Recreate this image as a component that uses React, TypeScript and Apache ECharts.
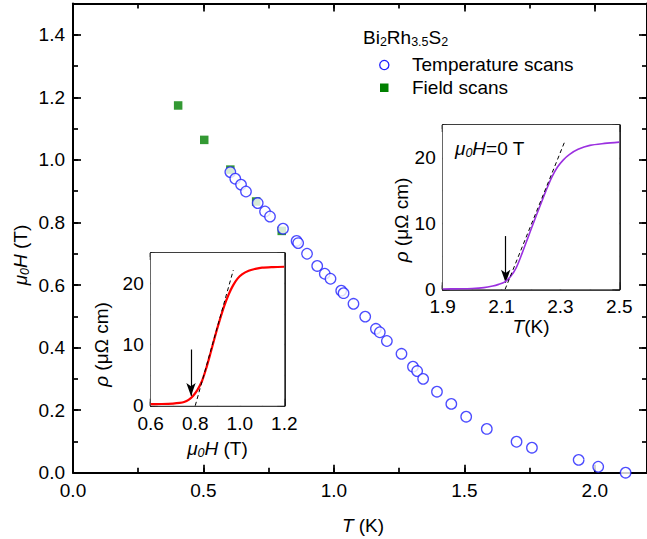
import React, { useEffect, useRef } from "react";
import * as echarts from "echarts";

// ---------------- data ----------------
// Main panel: upper critical field vs temperature
const tempScanT = [0.603, 0.622, 0.644, 0.663, 0.708, 0.736, 0.755, 0.805, 0.857, 0.863, 0.897, 0.936, 0.965, 0.987, 1.028, 1.037, 1.075, 1.12, 1.161, 1.176, 1.203, 1.259, 1.303, 1.319, 1.342, 1.395, 1.45, 1.507, 1.586, 1.7, 1.759, 1.938, 2.013, 2.118];
const tempScanH = [0.961, 0.94, 0.921, 0.899, 0.862, 0.835, 0.819, 0.78, 0.741, 0.734, 0.7, 0.661, 0.636, 0.62, 0.582, 0.574, 0.54, 0.499, 0.46, 0.449, 0.421, 0.38, 0.339, 0.325, 0.3, 0.259, 0.22, 0.179, 0.14, 0.099, 0.08, 0.041, 0.019, 0.0];
const fieldScanT = [0.403, 0.503, 0.603, 0.702, 0.8];
const fieldScanH = [1.174, 1.064, 0.969, 0.867, 0.773];

// Inset 1: rho vs mu0H (field scan)
const inset1H = [0.6, 0.65, 0.7, 0.73, 0.75, 0.77, 0.79, 0.81, 0.83, 0.85, 0.87, 0.89, 0.91, 0.93, 0.95, 0.97, 0.99, 1.01, 1.04, 1.07, 1.1, 1.15, 1.2];
const inset1Rho = [0.25, 0.28, 0.35, 0.45, 0.6, 0.95, 1.6, 2.6, 4.0, 6.2, 8.8, 11.5, 14.0, 16.3, 18.2, 19.7, 20.8, 21.5, 22.1, 22.4, 22.6, 22.7, 22.75];
const inset1DashH = [0.8, 0.971];
const inset1DashRho = [0, 22.2];
const inset1ArrowH = 0.781;
const inset1ArrowRho = [9.2, 1.6];

// Inset 2: rho vs T (mu0H = 0 T)
const inset2T = [1.9, 1.95, 2.0, 2.04, 2.07, 2.09, 2.11, 2.13, 2.15, 2.17, 2.19, 2.21, 2.23, 2.25, 2.27, 2.29, 2.31, 2.33, 2.36, 2.4, 2.45, 2.5];
const inset2Rho = [0.05, 0.07, 0.12, 0.25, 0.5, 0.75, 1.1, 1.9, 3.3, 5.5, 7.9, 10.3, 12.6, 14.9, 17.0, 18.6, 19.7, 20.5, 21.3, 21.9, 22.2, 22.4];
const inset2DashT = [2.112, 2.313];
const inset2DashRho = [0, 22.3];
const inset2ArrowT = 2.114;
const inset2ArrowRho = [8.1, 1.0];

// Axis ranges / tick steps
const mainX = { min: 0, max: 2.2, major: 0.5, minor: 0.25 };
const mainY = { min: 0, max: 1.5, major: 0.2, minor: 0.1 };
const in1X = { min: 0.6, max: 1.2, major: 0.2, minor: 0.1 };
const in1Y = { min: 0, max: 25, major: 10, minor: 5 };
const in2X = { min: 1.9, max: 2.5, major: 0.2, minor: 0.1 };
const in2Y = { min: 0, max: 25, major: 10, minor: 5 };

// ---------------- styling ----------------
const FONT = '"Liberation Sans", Arial, Helvetica, sans-serif';
const FS = 19;
const BLUE = "#1f1fff";
const GREEN = "#008000";
const RED = "#ff0000";
const PURPLE = "#9b30e0";

type AxOpts = {
  lw: number;
  majorLen: number;
  minorLen: number;
  labels?: boolean;
  fmt?: (v: number) => string;
  margin?: number;
  showMax?: boolean;
};

function addAxes(list: any[], gridIndex: number, position: string, r: any, o: AxOpts): number {
  const idx = list.length;
  list.push({
    type: "value",
    gridIndex,
    position,
    min: r.min,
    max: r.max,
    interval: r.major,
    axisLine: { show: true, onZero: false, lineStyle: { color: "#000", width: o.lw } },
    axisTick: { show: true, inside: true, length: o.majorLen, lineStyle: { color: "#000", width: o.lw * 0.85 } },
    minorTick: { show: false },
    splitLine: { show: false },
    axisLabel: o.labels
      ? {
          show: true,
          margin: o.margin ?? 8,
          color: "#000",
          fontSize: FS,
          fontFamily: FONT,
          formatter: o.fmt,
          showMaxLabel: !!o.showMax,
          showMinLabel: true,
        }
      : { show: false },
  });
  list.push({
    type: "value",
    gridIndex,
    position,
    min: r.min,
    max: r.max,
    interval: r.minor,
    axisLine: { show: false, onZero: false },
    axisTick: { show: true, inside: true, length: o.minorLen, lineStyle: { color: "#000", width: o.lw * 0.85 } },
    minorTick: { show: false },
    splitLine: { show: false },
    axisLabel: { show: false },
  });
  return idx;
}

const rich = {
  i: { fontStyle: "italic", fontSize: FS, fontFamily: FONT, lineHeight: 23 },
  isub: { fontStyle: "italic", fontSize: 12.5, fontFamily: FONT, lineHeight: 13, verticalAlign: "bottom" },
  sub: { fontSize: 12.5, fontFamily: FONT, lineHeight: 13, verticalAlign: "bottom" },
};

function txt(x: number, y: number, text: string, opts: any = {}) {
  return {
    type: "text",
    x,
    y,
    rotation: opts.rotation ?? 0,
    z: 100,
    style: {
      text,
      rich,
      fill: "#000",
      font: `${FS}px ${FONT}`,
      fontSize: FS,
      fontFamily: FONT,
      lineHeight: 23,
      align: opts.align ?? "center",
      verticalAlign: "middle",
    },
  };
}

export default function App() {
  const ref = useRef<HTMLDivElement>(null);

  useEffect(() => {
    if (!ref.current) return;
    const chart = echarts.init(ref.current, undefined, { renderer: "svg" });

    const xAxes: any[] = [];
    const yAxes: any[] = [];
    const f1 = (v: number) => v.toFixed(1);
    const f0 = (v: number) => String(Math.round(v));

    // main grid (0)
    const mx = addAxes(xAxes, 0, "bottom", mainX, { lw: 2, majorLen: 8, minorLen: 5, labels: true, fmt: f1, margin: 8 });
    addAxes(xAxes, 0, "top", mainX, { lw: 2, majorLen: 8, minorLen: 5 });
    const my = addAxes(yAxes, 0, "left", mainY, { lw: 2, majorLen: 8, minorLen: 5, labels: true, fmt: f1, margin: 8 });
    addAxes(yAxes, 0, "right", mainY, { lw: 2, majorLen: 8, minorLen: 5 });

    // inset 1 (grid 1)
    const i1x = addAxes(xAxes, 1, "bottom", in1X, { lw: 1.7, majorLen: 7, minorLen: 4, labels: true, fmt: f1, margin: 8, showMax: true });
    addAxes(xAxes, 1, "top", in1X, { lw: 1.7, majorLen: 7, minorLen: 4 });
    const i1y = addAxes(yAxes, 1, "left", in1Y, { lw: 1.7, majorLen: 7, minorLen: 4, labels: true, fmt: f0, margin: 7 });
    addAxes(yAxes, 1, "right", in1Y, { lw: 1.7, majorLen: 7, minorLen: 4 });

    // inset 2 (grid 2)
    const i2x = addAxes(xAxes, 2, "bottom", in2X, { lw: 1.7, majorLen: 7, minorLen: 4, labels: true, fmt: f1, margin: 8, showMax: true });
    addAxes(xAxes, 2, "top", in2X, { lw: 1.7, majorLen: 7, minorLen: 4 });
    const i2y = addAxes(yAxes, 2, "left", in2Y, { lw: 1.7, majorLen: 7, minorLen: 4, labels: true, fmt: f0, margin: 7 });
    addAxes(yAxes, 2, "right", in2Y, { lw: 1.7, majorLen: 7, minorLen: 4 });

    const arrowLine = (x: number, ys: number[]) => ({
      silent: true,
      animation: false,
      symbol: ["none", "arrow"],
      lineStyle: { color: "#000", width: 1.2, type: "solid" },
      label: { show: false },
      emphasis: { disabled: true },
      data: [[{ coord: [x, ys[0]], symbol: "none" }, { coord: [x, ys[1]], symbol: "arrow", symbolSize: [7, 13] }]],
    });

    const option: any = {
      animation: false,
      backgroundColor: "#fff",
      textStyle: { fontFamily: FONT },
      grid: [
        { left: 73, top: 3.5, width: 578.6, height: 469.2, show: false },
        { left: 150.7, top: 253, width: 133.6, height: 152.7, show: true, backgroundColor: "#fff", borderWidth: 0, z: 5 },
        { left: 442.7, top: 125, width: 176.6, height: 164.3, show: true, backgroundColor: "#fff", borderWidth: 0, z: 5 },
      ],
      xAxis: xAxes,
      yAxis: yAxes,
      series: [
        {
          type: "scatter",
          name: "Field scans",
          xAxisIndex: mx,
          yAxisIndex: my,
          data: fieldScanT.map((t, i) => [t, fieldScanH[i]]),
          symbol: "rect",
          symbolSize: 8.5,
          itemStyle: { color: GREEN },
          clip: false,
          z: 2,
        },
        {
          type: "scatter",
          name: "Temperature scans",
          xAxisIndex: mx,
          yAxisIndex: my,
          data: tempScanT.map((t, i) => [t, tempScanH[i]]),
          symbol: "circle",
          symbolSize: 10.5,
          itemStyle: { color: "#fff", borderColor: BLUE, borderWidth: 1.3 },
          clip: false,
          z: 3,
        },
        {
          type: "line",
          xAxisIndex: i1x,
          yAxisIndex: i1y,
          data: inset1H.map((h, i) => [h, inset1Rho[i]]),
          showSymbol: false,
          smooth: 0.3,
          lineStyle: { color: RED, width: 2.2 },
          z: 6,
          markLine: arrowLine(inset1ArrowH, inset1ArrowRho),
        },
        {
          type: "line",
          xAxisIndex: i1x,
          yAxisIndex: i1y,
          data: inset1DashH.map((h, i) => [h, inset1DashRho[i]]),
          showSymbol: false,
          lineStyle: { color: "#000", width: 1, type: [4, 3] },
          z: 7,
        },
        {
          type: "line",
          xAxisIndex: i2x,
          yAxisIndex: i2y,
          data: inset2T.map((t, i) => [t, inset2Rho[i]]),
          showSymbol: false,
          smooth: 0.3,
          lineStyle: { color: PURPLE, width: 1.6 },
          z: 6,
          markLine: arrowLine(inset2ArrowT, inset2ArrowRho),
        },
        {
          type: "line",
          xAxisIndex: i2x,
          yAxisIndex: i2y,
          data: inset2DashT.map((t, i) => [t, inset2DashRho[i]]),
          showSymbol: false,
          lineStyle: { color: "#000", width: 1, type: [4, 3] },
          z: 7,
        },
      ],
      graphic: [
        // axis titles
        txt(20, 255, "{i|μ}{isub|0}{i|H} (T)", { rotation: Math.PI / 2 }),
        txt(363, 525, "{i|T} (K)"),
        txt(217.5, 448, "{i|μ}{isub|0}{i|H} (T)"),
        txt(101, 344.5, "{i|ρ} (μΩ cm)", { rotation: Math.PI / 2 }),
        txt(531, 326, "{i|T}(K)"),
        txt(401, 220, "{i|ρ} (μΩ cm)", { rotation: Math.PI / 2 }),
        txt(455, 148, "{i|μ}{isub|0}{i|H}=0 T", { align: "left" }),
        // legend
        txt(363, 37, "Bi{sub|2}Rh{sub|3.5}S{sub|2}", { align: "left" }),
        {
          type: "circle",
          z: 100,
          shape: { cx: 384.3, cy: 65, r: 4.6 },
          style: { fill: "#fff", stroke: BLUE, lineWidth: 1.3 },
        },
        txt(412, 64.5, "Temperature scans", { align: "left" }),
        {
          type: "rect",
          z: 100,
          shape: { x: 380, y: 83.5, width: 8.5, height: 8.5 },
          style: { fill: GREEN },
        },
        txt(412, 87.5, "Field scans", { align: "left" }),
      ],
    };

    chart.setOption(option);
    return () => chart.dispose();
  }, []);

  return (
    <div
      ref={ref}
      style={{ position: "absolute", left: 0, top: 0, width: 647, height: 539, overflow: "hidden", background: "#fff" }}
    />
  );
}
